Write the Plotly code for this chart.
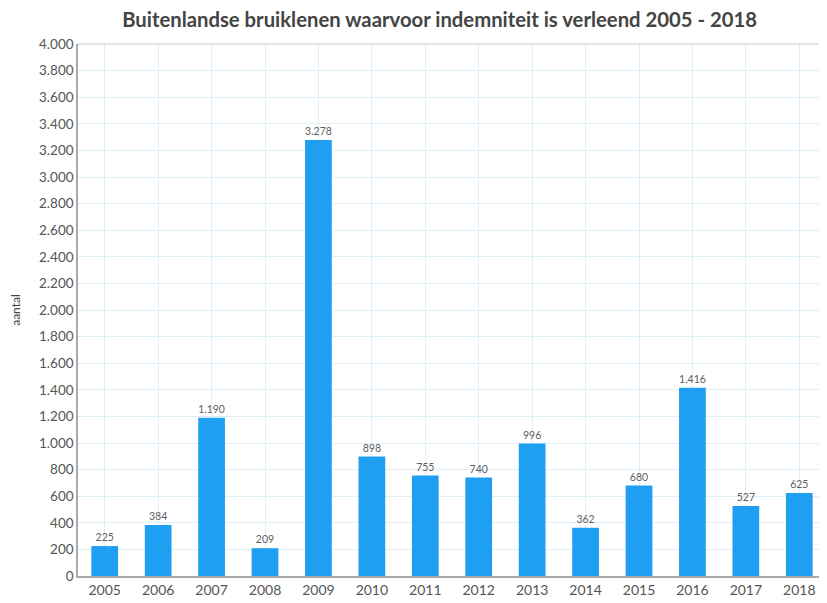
import plotly.graph_objects as go

years = ["2005", "2006", "2007", "2008", "2009", "2010", "2011", "2012", "2013", "2014", "2015", "2016", "2017", "2018"]
values = [225, 384, 1190, 209, 3278, 898, 755, 740, 996, 362, 680, 1416, 527, 625]
y_ticks = list(range(0, 4001, 200))

W, H = 819, 595  # page has an 8px body margin

fig = go.Figure(go.Bar(
    x=years, y=values,
    marker=dict(color="#1E9FF2", line=dict(width=0)),
    width=0.5,
    texttemplate="%{y:,}", textposition="outside",
    textfont=dict(size=10.5, color="#606060", family="Lato"),
    cliponaxis=False,
))

fig.update_layout(
    width=W, height=H,
    margin=dict(l=70, r=1, t=36, b=27),
    paper_bgcolor="white", plot_bgcolor="white",
    separators=",.",
    font=dict(family="Lato", color="#555555"),
    title=dict(text="<b>Buitenlandse bruiklenen waarvoor indemniteit is verleend 2005 - 2018</b>",
               x=0.527, xanchor="center", y=0.98, yanchor="middle",
               font=dict(size=20.3, color="#444444", family="Lato")),
    showlegend=False,
    bargap=0.5,
)
fig.update_xaxes(
    type="category", showgrid=True, gridcolor="#DDF0F8", gridwidth=1,
    showline=True, linecolor="#AAAAAA", linewidth=1.5,
    tickfont=dict(size=14, color="#555555"), ticks="",
)
fig.update_yaxes(
    range=[0, 4000], tickvals=y_ticks, tickformat=",",
    showgrid=True, gridcolor="#DDF0F8", gridwidth=1,
    showline=True, linecolor="#AAAAAA", linewidth=1.5,
    zeroline=False,
    tickfont=dict(size=13.5, color="#555555"), ticks="",
    title=dict(text="aantal", font=dict(size=12, color="#444444"), standoff=16),
)
fig.add_shape(type="line", xref="paper", yref="paper", x0=0, x1=1, y0=1, y1=1,
              line=dict(color="#CCCCCC", width=1))

fig.write_html("out.html")
